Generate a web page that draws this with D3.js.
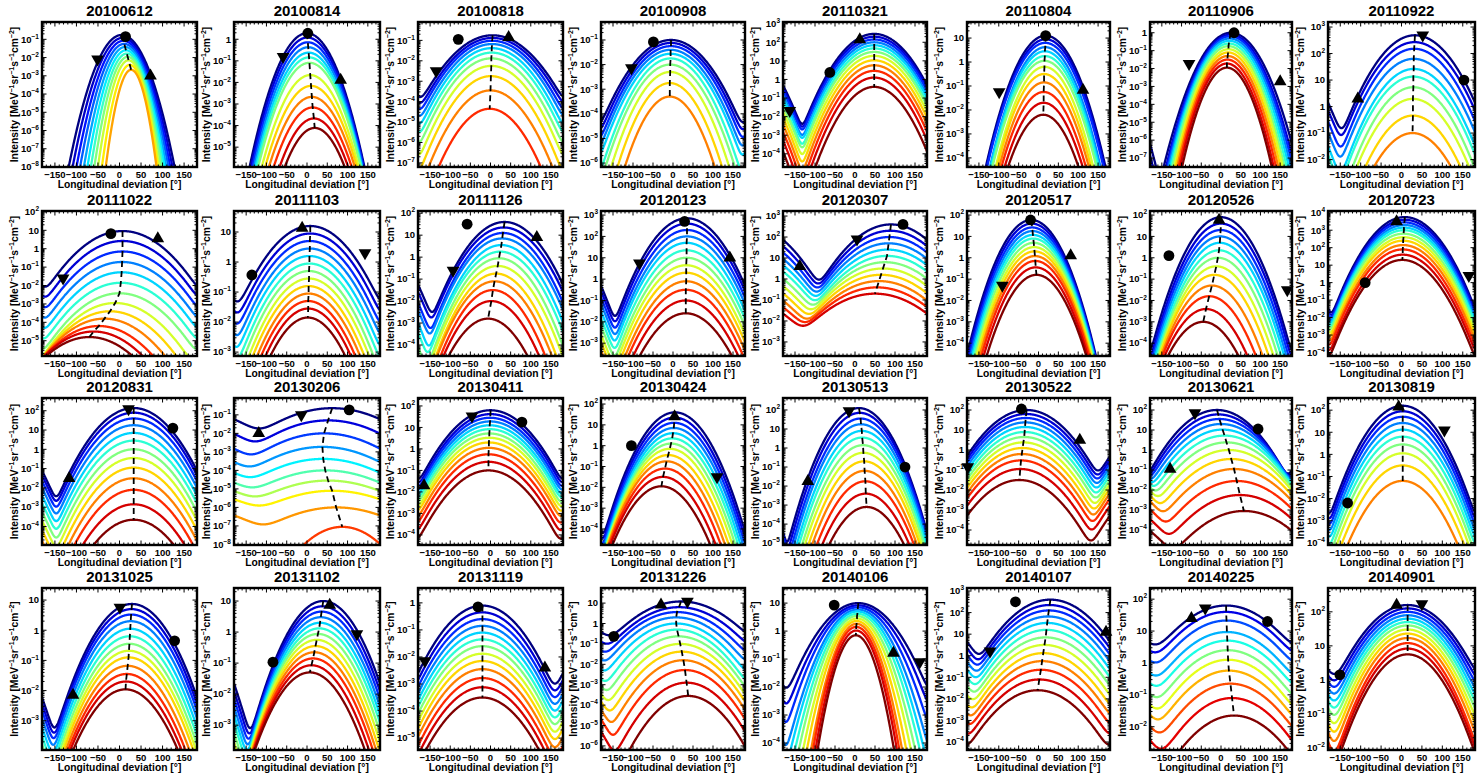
<!DOCTYPE html>
<html><head><meta charset="utf-8">
<script src="https://cdn.jsdelivr.net/npm/d3@7"></script>
<style>body{margin:0;background:#fff}</style>
</head><body>
<svg id="c" width="1484" height="776" xmlns="http://www.w3.org/2000/svg"></svg>
<script>
// ---------------- DATA ----------------
const dates = ["20100612","20100814","20100818","20100908","20110321","20110804","20110906","20110922",
  "20111022","20111103","20111126","20120123","20120307","20120517","20120526","20120723",
  "20120831","20130206","20130411","20130424","20130513","20130522","20130621","20130819",
  "20131025","20131102","20131119","20131226","20140106","20140107","20140225","20140901"];
// y-axis limits as log10 of intensity
const yLogMin = [-8,-5.92,-7.2,-6.16,-4.71,-4.38,-7.5,-2.28, -5.83,-3.13,-4.5,-3.6,-3.67,-4.6,-4.6,-4.2,
  -4.96,-8.03,-4.47,-4.77,-5.1,-4.75,-4.75,-4.1, -3.97,-3.8,-5.44,-6.2,-4.25,-4.37,-2.73,-2.06];
const yLogMax = [-0.05,0.8,-0.1,-0.27,3.09,1.67,0.6,3.19, 2.05,1.7,2.1,3.19,3.24,2.19,2.19,4.1,
  2.66,-0.09,2.37,2.29,2.63,2.6,2.6,2.55, 1.4,1.42,0.55,1.74,1.54,3.14,2.35,2.7];
// number of steps of the jet colour scale used in each panel
const colorCount = [15,13,13,13,13,13,13,13, 13,13,13,13,13,13,13,13, 13,12,13,13,13,13,13,13, 13,13,13,13,13,13,11,13];
// peak intensity (log10) of each fitted curve, top (navy) to bottom (red)
const peakLog = [
 [-0.76,-0.92,-1.08,-1.25,-1.42,-1.6,-1.78,-1.96,-2.15,-2.4,-2.67],
 [0.28,0.08,-0.14,-0.37,-0.62,-0.84,-1.09,-1.66,-2.16,-2.67,-3.16,-3.67,-4.11],
 [-0.75,-0.88,-1.02,-1.18,-1.38,-1.6,-1.88,-2.25,-2.75,-3.45,-4.35],
 [-1.0,-1.12,-1.25,-1.4,-1.56,-1.75,-2.0,-2.3,-2.75,-3.3],
 [2.45,2.3,2.15,2.0,1.84,1.67,1.48,1.27,1.03,0.76,0.46,0.1,-0.4],
 [1.1,0.95,0.8,0.62,0.45,0.25,0.05,-0.2,-0.5,-0.85,-1.25,-1.7,-2.2],
 [0.0,-0.1,-0.2,-0.32,-0.45,-0.6,-0.75,-0.92,-1.1,-1.3,-1.5,-1.72,-1.95],
 [2.69,2.43,2.18,1.8,1.42,1.13,0.73,0.29,-0.34,-1.0],
 [0.96,0.42,-0.15,-0.72,-1.28,-1.85,-2.42,-2.95,-3.4,-3.8,-4.2,-4.5,-4.8],
 [1.2,0.95,0.7,0.45,0.2,-0.05,-0.3,-0.55,-0.8,-1.05,-1.3,-1.55,-1.85],
 [1.6,1.35,1.1,0.85,0.55,0.25,-0.05,-0.4,-0.75,-1.1,-1.5,-2.0,-2.8],
 [2.85,2.6,2.3,2.0,1.7,1.35,1.0,0.65,0.3,-0.1,-0.5,-1.0,-1.6],
 [2.6,2.3,2.0,1.7,1.4,1.1,0.8,0.5,0.2,-0.1,-0.4,-0.7],
 [1.77,1.6,1.42,1.25,1.07,0.9,0.7,0.5,0.3,0.08,-0.15,-0.45,-0.8],
 [1.9,1.6,1.3,1.0,0.7,0.35,0.0,-0.4,-0.8,-1.3,-1.8,-2.4,-3.0],
 [3.75,3.6,3.45,3.3,3.15,3.0,2.8,2.6,2.4,2.15,1.9,1.6,1.3],
 [2.14,1.9,1.6,1.25,0.85,0.45,0.0,-0.45,-0.95,-1.5,-2.1,-2.85,-3.65],
 [-0.64,-1.3,-2.0,-2.73,-3.38,-4.0,-4.55,-5.1,-6.0,-7.05],
 [1.8,1.62,1.45,1.28,1.1,0.92,0.72,0.52,0.3,0.05,-0.25,-0.6,-1.0],
 [1.6,1.35,1.1,0.85,0.6,0.35,0.1,-0.15,-0.45,-0.75,-1.1,-1.5,-1.95],
 [2.1,1.85,1.55,1.25,0.9,0.55,0.15,-0.25,-0.7,-1.2,-1.75,-2.4,-3.1],
 [2.0,1.8,1.6,1.38,1.15,0.9,0.65,0.38,0.1,-0.2,-0.52,-0.95,-1.5],
 [2.0,1.78,1.55,1.3,1.02,0.72,0.38,0.0,-0.45,-0.95,-1.55,-2.25,-3.05],
 [2.2,1.95,1.7,1.42,1.12,0.8,0.45,0.05,-0.5,-1.2],
 [0.87,0.7,0.52,0.3,0.05,-0.2,-0.45,-0.68,-0.9,-1.18,-1.45,-1.7,-1.96],
 [1.0,0.83,0.66,0.48,0.3,0.12,-0.06,-0.25,-0.45,-0.65,-0.85,-1.07,-1.3],
 [-0.1,-0.35,-0.6,-0.85,-1.1,-1.35,-1.6,-1.88,-2.15,-2.45,-2.78,-3.12,-3.5],
 [1.08,0.8,0.56,0.3,0.0,-0.3,-0.63,-1.0,-1.38,-1.8,-2.28,-2.9,-3.55],
 [1.0,0.92,0.85,0.77,0.7,0.62,0.54,0.45,0.36,0.26,0.15,0.02,-0.15],
 [2.6,2.35,2.1,1.82,1.52,1.2,0.85,0.5,0.12,-0.25,-0.65,-1.1,-1.6],
 [1.8,1.6,1.33,0.97,0.7,0.4,0.1,-0.24,-0.65,-1.1,-1.65],
 [2.2,2.1,2.0,1.9,1.8,1.7,1.6,1.48,1.36,1.23,1.08,0.92,0.75]
];
// longitude of each curve's peak [deg]
const centerLon = [
 [5,7,9,11,13,15,17,19,21,24,27],
 [0,1,2,3,4,5,6,8,10,12,14,17,19],
 [5,5,4,4,3,3,2,2,1,0,-2],
 [-5,-5,-5,-6,-6,-6,-7,-7,-8,-8],
 [48,48,48,48,48,48,48,48,48,48,48,48,48],
 [18,18,17,17,16,16,15,15,14,14,13,13,12],
 [25,24,23,22,21,20,19,19,18,17,16,15,15],
 [33,32,31,30,30,29,29,28,28,27],
 [7,7,7,6,5,3,0,-10,-22,-35,-48,-60,-70],
 [8,8,7,7,6,6,5,5,4,4,3,3,2],
 [35,33,31,29,27,24,21,18,14,10,6,2,-6],
 [35,35,35,35,34,34,34,33,33,33,32,32,32],
 [90,88,86,84,82,80,75,70,65,60,55,50],
 [-18,-17,-16,-15,-14,-13,-12,-11,-10,-9,-8,-7,-5],
 [0,0,-1,-2,-3,-5,-8,-12,-17,-23,-30,-38,-45],
 [8,8,7,7,6,6,5,5,4,4,3,3,2],
 [33,33,33,33,33,33,33,33,33,33,33,33,33],
 [62,52,42,38,40,45,52,62,72,87],
 [0,0,-1,-1,-2,-2,-3,-3,-4,-4,-5,-5,-5],
 [5,4,3,2,0,-2,-5,-8,-12,-16,-20,-25,-29],
 [10,12,14,15,17,18,20,21,23,24,26,27,29],
 [-30,-31,-32,-33,-34,-35,-36,-38,-40,-42,-44,-46,-48],
 [-10,-7,-4,0,4,9,14,20,26,33,40,48,58],
 [3,3,3,3,3,3,3,3,3,3],
 [29,28,27,26,25,24,23,22,21,19,17,15,14],
 [40,38,36,34,32,30,27,24,21,18,15,11,7],
 [-20,-20,-20,-20,-20,-20,-20,-20,-20,-20,-20,-20,-20],
 [20,15,10,8,8,10,14,18,22,26,30,34,38],
 [8,8,7,7,6,6,5,5,4,4,3,3,2],
 [30,28,26,24,22,20,18,15,12,9,6,2,-2],
 [13,13,14,15,16,17,18,20,24,28,33],
 [15,15,15,15,15,15,15,15,15,15,15,15,15]
];
// Gaussian width (sigma, deg) of each curve
const widthSigma = [
 [21.3,20.3,19.3,18.4,17.4,16.5,15.6,14.7,13.7,12.8,11.9],
 [26.5,26.5,26.5,26.5,26.6,26.7,26.8,27,27.2,27.4,27,26.3,25.6],
 [46,45,44,43,42,41,40,39,38,37,35],
 [44,43,42,41,40,38,37,35,33,31],
 [37,37,37,36.5,36.5,36,36,35.5,35,34.5,34,33.5,33],
 [30,30,30,29,29,29,29,28,28,28,28,28,28],
 [29,28,27.5,27,26.5,26,25.5,25,24.5,24,23.5,23,22.5],
 [43,43,42,42,41,41,40,40,39,39],
 [46,46,46,46,46,46,46,46,46,46,46,46,46],
 [50,49,48,47,46,45,44,43,42,41,40,39,38],
 [40,40,39,39,38,38,37,37,36,36,35,35,35],
 [38,38,38,38,38,38,38,38,38,38,38,38,38],
 [49,50,51,52,53,54,55,56,57,58,60,62],
 [30,30,30,30,30,30,30,30,30,30,30,30,30],
 [33,33,33,33,33,33,33,33,33,33,33,33,33],
 [35,35,35,35,35,35,35,35,35,35,35,35,35],
 [38,38,38,38,38,38,38,38,38,38,38,38,38],
 [71,70,70,72,74,76,78,80,76,45],
 [45,45,45,45,45,45,45,45,45,45,45,45,45],
 [34,34,34,34,34,34,34,34,34,34,34,34,34],
 [31,31,31,31,31,31,31,31,31,31,31,31,31],
 [46,46,46,46,46,46,46,46,46,46,46,46,46],
 [45,46,47,48,49,50,51,52,53,54,55,56,57],
 [37,37,37,37,37,37,37,37,37,37],
 [40,40,40,40,40,40,40,40,40,40,40,40,40],
 [40,40,40,40,40,40,40,40,40,40,40,40,40],
 [47,47,47,47,47,47,47,47,47,47,47,47,47],
 [60,58,56,54,52,50,49,48,47,46,45,44,42],
 [46,43,40,37,35,33,31,29,27,25,24,23,22],
 [50,50,50,50,50,50,50,50,50,50,50,50,50],
 [68,67,66,65,64,63,62,62,62,61,61],
 [55,54,53,52,51,50,49,48,47,46,45,45,45]
];
// spacecraft markers: [longitude, log10 intensity]
const circleMarker = [[14,-0.85],[2,0.28],[-80,-0.95],[-49,-1.08],[-63,0.375],[18,1.1],[33,0.0],[153,1.0],
 [-20,0.82],[-136,-0.43],[-58,1.5],[29,2.7],[120,2.6],[-20,1.77],[-132,0.1],[-89,0.0],
 [124,1.1],[104,-0.73],[78,1.25],[-104,0.0],[125,-1.0],[-43,2.05],[94,1.05],[-132,-2.2],
 [128,-0.35],[-84,-0.97],[-31,-0.15],[-148,-0.63],[-52,0.93],[-58,2.5],[118,1.3],[-151,0.15]];
const upMarker = [[72,-3.0],[83,-1.89],[45,-0.85],null,[12,2.14],[112,-1.17],[150,-2.73],[-107,0.29],
 [89,0.55],[-12,1.13],[115,0.9],[142,1.0],[-138,0.6],[81,0.1],[-5,1.77],[-12,3.5],
 [-117,-1.5],[-119,-2.0],[-165,-1.7],[4,1.4],[-118,-1.75],[104,0.5],[-129,-0.95],[-7,2.15],
 [-108,-2.15],[56,0.87],[135,-2.4],[-30,0.92],[96,-0.79],[170,1.1],[-75,1.4],[-12,2.2]];
const downMarker = [[-51,-2.09],[-59,-0.81],[-135,-2.5],[-104,-2.14],[-163,-1.68],[-99,-1.25],[-81,-1.73],[52,2.69],
 [-131,-1.6],[143,0.3],[-93,-0.6],[-84,0.75],[5,1.9],[-91,-1.3],[168,-1.5],[165,0.4],
 [21,2.1],[-14,-1.0],[-46,1.53],[110,-1.5],[-15,1.95],[-178,-0.85],[-66,1.85],[105,1.1],
 [1,0.76],[123,-0.06],[-163,-2.15],[36,1.08],[162,-1.1],[-122,0.21],[-40,1.72],[50,2.23]];
const xTickValues = [-150,-100,-50,0,50,100,150];

// ---------------- LAYOUT ----------------
const rowTop = [22,211,398,588], rowBot = [167,356,545,750];
const colRight = [197,380,563,745,927,1110,1292,1475];
const colLeft = [42,234,418,601,783,967,1150,1328];
const FONT = "'Liberation Sans', Arial, Helvetica, sans-serif";

function jet(t){
  const c = v => Math.round(255*Math.max(0,Math.min(1,v)));
  return `rgb(${c(1.5-Math.abs(4*t-3))},${c(1.5-Math.abs(4*t-2))},${c(1.5-Math.abs(4*t-1))})`;
}
const svg = d3.select("#c");
const defs = svg.append("defs");

dates.forEach((date,i)=>{
  const r = Math.floor(i/8), c = i%8;
  const L = colLeft[c], R = colRight[c], T = rowTop[r], B = rowBot[r];
  const lo = yLogMin[i], hi = yLogMax[i];
  const x = d3.scaleLinear().domain([-180,180]).range([L,R]);
  const y = d3.scaleLog().domain([10**lo,10**hi]).range([B,T]);
  const g = svg.append("g");
  defs.append("clipPath").attr("id","cp"+i).append("rect")
    .attr("x",L).attr("y",T).attr("width",R-L).attr("height",B-T);
  const cg = g.append("g").attr("clip-path",`url(#cp${i})`);
  const floorVal = 10**(lo-3);
  const lons = d3.range(-180,180.01,1);
  const n = peakLog[i].length, nc = colorCount[i];
  for(let j=0;j<n;j++){
    const A = 10**peakLog[i][j], mu = centerLon[i][j], s = widthSigma[i][j];
    const f = l => A*(Math.exp(-((l-mu)**2)/(2*s*s)) + Math.exp(-((l-mu-360)**2)/(2*s*s)) + Math.exp(-((l-mu+360)**2)/(2*s*s)));
    const line = d3.line().x(l=>x(l)).y(l=>y(Math.max(f(l),floorVal)));
    cg.append("path").attr("d",line(lons)).attr("fill","none")
      .attr("stroke",jet(j/(nc-1))).attr("stroke-width",2.3).attr("stroke-linejoin","round");
  }
  // dashed peak track
  const pk = d3.range(n).map(j=>[centerLon[i][j],10**peakLog[i][j]]);
  cg.append("path").attr("d",d3.line().x(p=>x(p[0])).y(p=>y(p[1]))(pk))
    .attr("fill","none").attr("stroke","#000").attr("stroke-width",1.8).attr("stroke-dasharray","6,4");
  // markers
  const mk = (m,type,rot)=>{
    if(!m) return;
    const px = x(m[0]), py = y(10**m[1]);
    if(type==="c") g.append("circle").attr("cx",px).attr("cy",py).attr("r",5.4).attr("fill","#000");
    else g.append("path").attr("d",d3.symbol(d3.symbolTriangle,70)())
      .attr("transform",`translate(${px},${py}) rotate(${rot})`).attr("fill","#000");
  };
  mk(circleMarker[i],"c",0); mk(upMarker[i],"t",0); mk(downMarker[i],"t",180);
  // ticks
  const tk = g.append("g").attr("stroke","#000").attr("stroke-width",1);
  for(let v=-170; v<=170; v+=10){
    const len = (v%50===0)?4.5:2.5;
    tk.append("line").attr("x1",x(v)).attr("x2",x(v)).attr("y1",B).attr("y2",B-len);
    tk.append("line").attr("x1",x(v)).attr("x2",x(v)).attr("y1",T).attr("y2",T+len);
  }
  const decades = d3.range(Math.ceil(lo), Math.floor(hi)+1);
  for(let e=Math.floor(lo); e<=Math.ceil(hi); e++){
    for(let k=1;k<10;k++){
      const lv = e+Math.log10(k);
      if(lv<lo||lv>hi) continue;
      const len = k===1?4.5:2.5, py = y(10**lv);
      tk.append("line").attr("x1",L).attr("x2",L+len).attr("y1",py).attr("y2",py);
      tk.append("line").attr("x1",R).attr("x2",R-len).attr("y1",py).attr("y2",py);
    }
  }
  g.append("rect").attr("x",L).attr("y",T).attr("width",R-L).attr("height",B-T)
    .attr("fill","none").attr("stroke","#000").attr("stroke-width",2.4);
  // x tick labels
  xTickValues.forEach(v=>{
    g.append("text").attr("x",x(v)).attr("y",B+11).attr("text-anchor","middle")
      .attr("font-family",FONT).attr("font-weight","bold").attr("font-size",9.5)
      .text(v<0?"\u2212"+Math.abs(v):String(v));
  });
  g.append("text").attr("x",(L+R)/2).attr("y",B+20.5).attr("text-anchor","middle")
    .attr("font-family",FONT).attr("font-weight","bold").attr("font-size",10.3)
    .text("Longitudinal deviation [\u00b0]");
  // y tick labels
  let minX = L;
  decades.forEach(e=>{
    const t = g.append("text").attr("x",L-3).attr("y",y(10**e)+3.3).attr("text-anchor","end")
      .attr("font-family",FONT).attr("font-weight","bold").attr("font-size",9.5);
    if(e===0) t.text("1");
    else if(e===1) t.text("10");
    else { t.append("tspan").text("10"); t.append("tspan").attr("dy",-4).attr("font-size",6.5).text(e<0?"\u2212"+(-e):String(e)); }
    minX = Math.min(minX, t.node().getBBox().x);
  });
  // y label
  const yl = g.append("text").attr("transform",`translate(${minX-3},${(T+B)/2}) rotate(-90)`)
    .attr("text-anchor","middle").attr("font-family",FONT).attr("font-weight","bold").attr("font-size",10.3);
  const parts = [["Intensity [MeV",0],["\u22121",1],["sr",0],["\u22121",1],["s",0],["\u22121",1],["cm",0],["\u22122",1],["]",0]];
  let raised=false;
  parts.forEach(([s,sup])=>{
    const ts = yl.append("tspan").text(s);
    if(sup){ ts.attr("font-size",7).attr("dy",raised?0:-4); raised=true; }
    else { if(raised){ ts.attr("dy",4); raised=false; } }
  });
  // title
  g.append("text").attr("x",(L+R)/2).attr("y",T-6).attr("text-anchor","middle")
    .attr("font-family",FONT).attr("font-weight","bold").attr("font-size",15).text(date);
});
</script>
</body></html>
